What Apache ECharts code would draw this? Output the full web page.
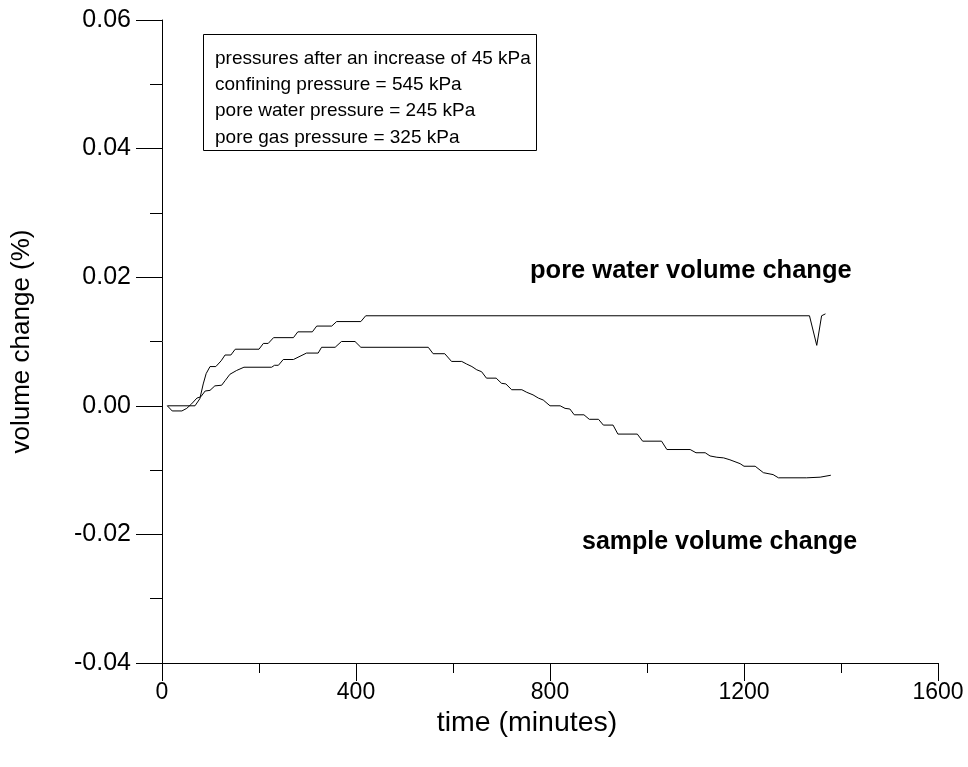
<!DOCTYPE html>
<html>
<head>
<meta charset="utf-8">
<script src="https://cdn.jsdelivr.net/npm/echarts@6/dist/echarts.min.js"></script>
<style>
  html, body { margin: 0; padding: 0; background: #fff; }
  #chart { width: 968px; height: 767px; }
</style>
</head>
<body>
<div id="chart"></div>
<script>
// Elapsed time in minutes and volume change in %
var poreWaterTime = [11, 68, 78, 85, 91, 99, 111, 122, 130, 142, 151, 200, 209, 219, 230, 271, 280, 310, 319, 350, 360, 410, 420, 1335, 1350, 1360, 1368];
var poreWaterChange = [0, 0, 0.0011, 0.0034, 0.0050, 0.0061, 0.0061, 0.0070, 0.0079, 0.0079, 0.0088, 0.0088, 0.0097, 0.0097, 0.0106, 0.0106, 0.0115, 0.0115, 0.0124, 0.0124, 0.0131, 0.0131, 0.0140, 0.0140, 0.0094, 0.0140, 0.0143];

var sampleTime = [11, 21, 41, 51, 61, 72, 80, 89, 99, 109, 123, 130, 140, 154, 169, 226, 232, 240, 250, 271, 298, 322, 329, 357, 370, 398, 410, 549, 559, 583, 597, 618, 628, 639, 649, 659, 669, 689, 700, 709, 721, 742, 752, 765, 776, 786, 800, 821, 831, 841, 850, 870, 881, 900, 910, 930, 940, 980, 991, 1030, 1041, 1089, 1101, 1120, 1130, 1144, 1158, 1171, 1192, 1200, 1223, 1240, 1260, 1271, 1329, 1357, 1379];
var sampleChange = [0, -0.0008, -0.0008, -0.0004, 0.0003, 0.0012, 0.0014, 0.0023, 0.0024, 0.0031, 0.0032, 0.0039, 0.0049, 0.0055, 0.0060, 0.0060, 0.0063, 0.0063, 0.0072, 0.0072, 0.0082, 0.0082, 0.0091, 0.0091, 0.0100, 0.0100, 0.0091, 0.0091, 0.0081, 0.0081, 0.0069, 0.0069, 0.0065, 0.0061, 0.0056, 0.0053, 0.0043, 0.0043, 0.0035, 0.0034, 0.0025, 0.0025, 0.0021, 0.0017, 0.0012, 0.0009, 0.0000, 0.0000, -0.0004, -0.0005, -0.0014, -0.0014, -0.0021, -0.0021, -0.0030, -0.0030, -0.0044, -0.0044, -0.0055, -0.0055, -0.0068, -0.0068, -0.0073, -0.0073, -0.0078, -0.0080, -0.0081, -0.0084, -0.0090, -0.0094, -0.0094, -0.0104, -0.0107, -0.0112, -0.0112, -0.0111, -0.0108];

var noteLines = [
  'pressures after an increase of 45 kPa',
  'confining pressure = 545 kPa',
  'pore water pressure = 245 kPa',
  'pore gas pressure = 325 kPa'
];
var poreWaterLabel = 'pore water volume change';
var sampleLabel = 'sample volume change';
var xName = 'time (minutes)';
var yName = 'volume change (%)';

function pairs(xs, ys) {
  return xs.map(function (x, i) { return [x, ys[i]]; });
}

var FONT = '"Liberation Sans", Arial, sans-serif';
var chart = echarts.init(document.getElementById('chart'), null, { renderer: 'canvas' });

var noteTexts = noteLines.map(function (line, i) {
  return {
    type: 'text',
    left: 215,
    top: 49 + i * 26.3,
    z: 11,
    style: { text: line, font: '19px ' + FONT, fill: '#000' }
  };
});

chart.setOption({
  animation: false,
  backgroundColor: '#fff',
  grid: { left: 162, right: 30, top: 20, bottom: 104, containLabel: false },
  xAxis: {
    type: 'value',
    min: 0, max: 1600, interval: 400,
    name: xName,
    nameLocation: 'middle',
    nameGap: 41,
    nameTextStyle: { fontFamily: FONT, fontSize: 28.5, color: '#000', padding: [0, 46, 0, 0] },
    axisLine: { onZero: false, lineStyle: { color: '#000', width: 1 } },
    axisTick: { show: true, inside: false, length: 18, lineStyle: { color: '#000', width: 1 } },
    minorTick: { show: true, splitNumber: 2, length: 10, lineStyle: { color: '#000', width: 1 } },
    axisLabel: {
      margin: 18, fontFamily: FONT, fontSize: 23, color: '#000',
      formatter: function (v) { return String(v); }
    },
    splitLine: { show: false }
  },
  yAxis: {
    type: 'value',
    min: -0.04, max: 0.06, interval: 0.02,
    name: yName,
    nameLocation: 'middle',
    nameGap: 127,
    nameRotate: 90,
    nameTextStyle: { fontFamily: FONT, fontSize: 26, color: '#000' },
    axisLine: { onZero: false, lineStyle: { color: '#000', width: 1 } },
    axisTick: { show: true, inside: false, length: 26, lineStyle: { color: '#000', width: 1 } },
    minorTick: { show: true, splitNumber: 2, length: 12, lineStyle: { color: '#000', width: 1 } },
    axisLabel: {
      margin: 31, fontFamily: FONT, fontSize: 25, color: '#000',
      formatter: function (v) { return (Math.abs(v) < 1e-9 ? 0 : v).toFixed(2); }
    },
    splitLine: { show: false }
  },
  series: [
    {
      name: poreWaterLabel,
      type: 'line',
      data: pairs(poreWaterTime, poreWaterChange),
      showSymbol: false,
      lineStyle: { color: '#000', width: 1 },
      z: 3
    },
    {
      name: sampleLabel,
      type: 'line',
      data: pairs(sampleTime, sampleChange),
      showSymbol: false,
      lineStyle: { color: '#000', width: 1 },
      z: 3
    }
  ],
  graphic: [
    {
      type: 'rect',
      shape: { x: 203.5, y: 34.5, width: 333, height: 116 },
      style: { fill: '#fff', stroke: '#000', lineWidth: 1 },
      z: 10
    }
  ].concat(noteTexts).concat([
    {
      type: 'text', left: 530, top: 258, z: 11,
      style: { text: poreWaterLabel, font: 'bold 25.5px ' + FONT, fill: '#000' }
    },
    {
      type: 'text', left: 582, top: 530, z: 11,
      style: { text: sampleLabel, font: 'bold 25px ' + FONT, fill: '#000' }
    }
  ])
});
</script>
</body>
</html>
